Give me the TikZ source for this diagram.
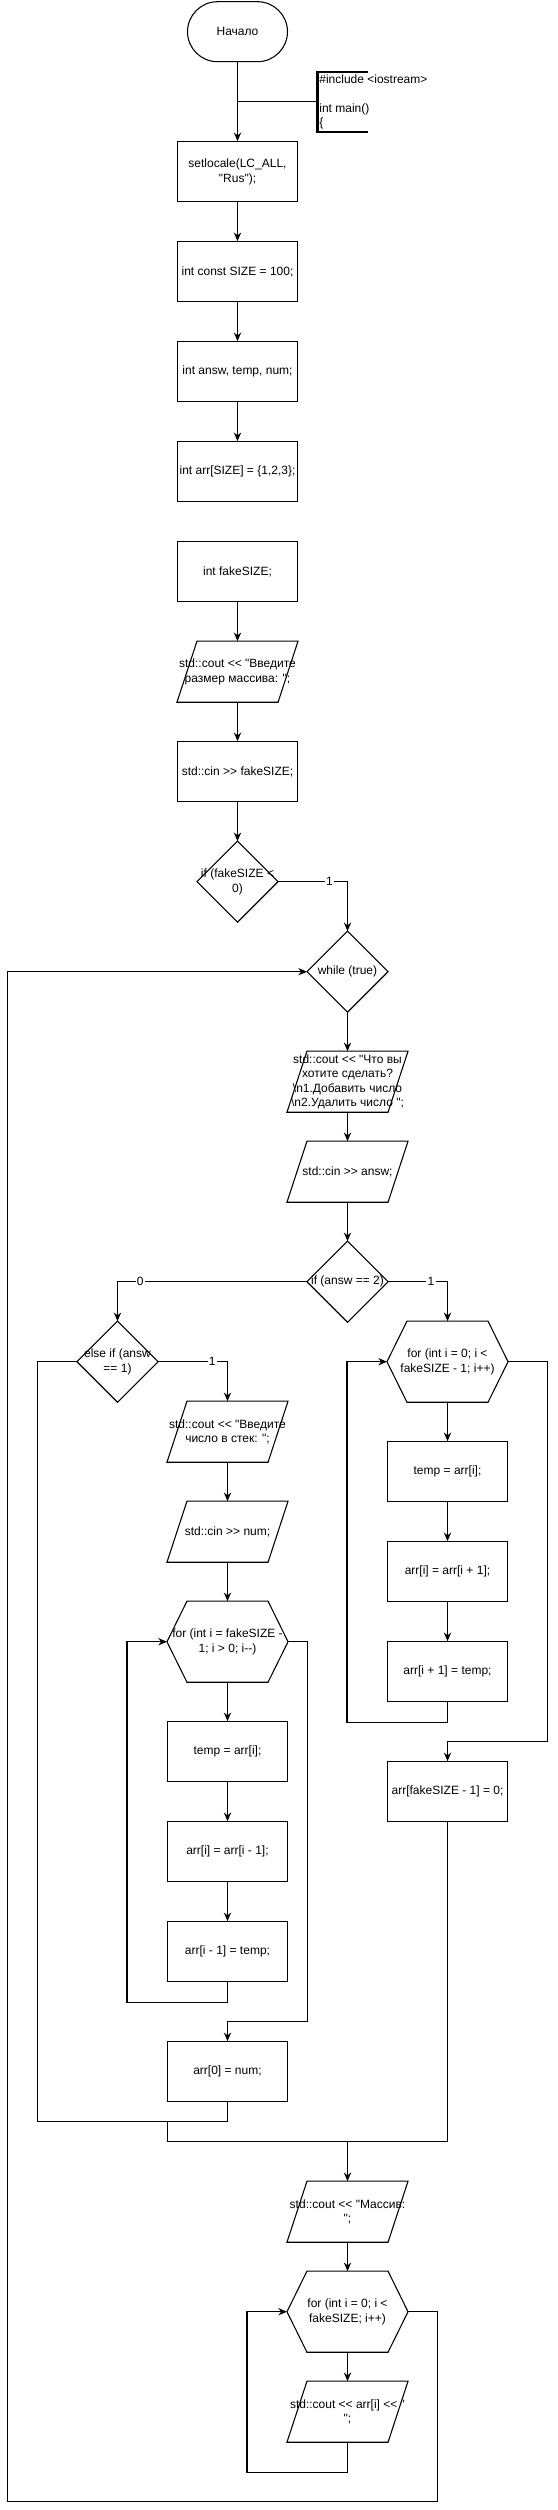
\documentclass[tikz,border=0pt]{standalone}
\usepackage{fontspec}
\setmainfont{Liberation Sans}[Ligatures=TeXOff]
\usetikzlibrary{
  arrows.meta,
  positioning,
  calc
}

\begin{document}
\begin{tikzpicture}[
  x=0.75pt, y=-0.75pt,
  line width=0.8pt,
  every node/.style={font=\fontsize{9pt}{10.9pt}\selectfont},
  block/.style={draw, minimum width=90pt, minimum height=45pt,
                inner sep=0pt, align=center},
  term/.style={block, minimum width=75pt, rounded corners=22.5pt},
  io/.style={block, draw=none},
  decision/.style={block, draw=none, minimum width=60pt, minimum height=60pt},
  loopbox/.style={block, draw=none, minimum height=60pt},
  lbl/.style={fill=white, inner sep=1pt},
  >={Stealth[length=6.5pt, width=5.5pt]}
]
\useasboundingbox (0,0) rectangle (557,2510);

% main column
\node[term] (start) at (237.5, 31.7) {Начало};
\node[anchor=west, inner sep=1pt, align=left] (note) at (317.5, 101.7)
  {\#include <iostream>\\ \\int main()\\\{};
\node[block] (setloc) at (237.5, 171.7) {setlocale(LC\_ALL,\\"Rus");};
\node[block] (sizec) at (237.5, 271.7) {int const SIZE = 100;};
\node[block] (vars) at (237.5, 371.7) {int answ, temp, num;};
\node[block] (arrinit) at (237.5, 471.7) {int arr[SIZE] = \{1,2,3\};};
\node[block] (fake) at (237.5, 571.7) {int fakeSIZE;};
\node[io] (askSize) at (237.5, 671.7) {std::cout << "Введите\\размер массива: ";};
\node[block] (readSize) at (237.5, 771.7) {std::cin >> fakeSIZE;};
\node[decision] (ifNeg) at (237.5, 881.7) {if (fakeSIZE <\\0)};

% while loop
\node[decision] (loopWhile) at (347.5, 971.7) {while (true)};
\node[io] (menu) at (347.5, 1081.7)
  {std::cout << "Что вы\\хотите сделать?\\\textbackslash n1.Добавить число\\\textbackslash n2.Удалить число ";};
\node[io] (readAnsw) at (347.5, 1171.7) {std::cin >> answ;};
\node[decision] (ifDel) at (347.5, 1281.7) {if (answ == 2)};

% add branch
\node[decision] (ifAdd) at (117.5, 1361.7) {else if (answ\\== 1)};
\node[io] (askNum) at (227.5, 1431.7) {std::cout << "Введите\\число в стек: ";};
\node[io] (readNum) at (227.5, 1531.7) {std::cin >> num;};
\node[loopbox] (forShift) at (227.5, 1641.7) {for (int i = fakeSIZE -\\1; i > 0; i--)};
\node[block] (tmpL) at (227.5, 1751.7) {temp = arr[i];};
\node[block] (movL) at (227.5, 1851.7) {arr[i] = arr[i - 1];};
\node[block] (setL) at (227.5, 1951.7) {arr[i - 1] = temp;};
\node[block] (putNum) at (227.5, 2071.7) {arr[0] = num;};

% delete branch
\node[loopbox] (forDel) at (447.5, 1361.7) {for (int i = 0; i <\\fakeSIZE - 1; i++)};
\node[block] (tmpR) at (447.5, 1471.7) {temp = arr[i];};
\node[block] (movR) at (447.5, 1571.7) {arr[i] = arr[i + 1];};
\node[block] (setR) at (447.5, 1671.7) {arr[i + 1] = temp;};
\node[block] (zeroLast) at (447.5, 1791.7) {arr[fakeSIZE - 1] = 0;};

% output
\node[io] (showHead) at (347.5, 2211.7) {std::cout << "Массив:\\";};
\node[loopbox] (forShow) at (347.5, 2311.7) {for (int i = 0; i <\\fakeSIZE; i++)};
\node[io] (showItem) at (347.5, 2411.7) {std::cout << arr[i] << "\\";};

% outlines
\foreach \n in {ifNeg, loopWhile, ifDel, ifAdd}
  \draw (\n.north) -- (\n.east) -- (\n.south) -- (\n.west) -- cycle;
\foreach \n in {askSize, menu, readAnsw, askNum, readNum, showHead, showItem}
  \draw ([xshift=15pt]\n.north west) -- (\n.north east)
    -- ([xshift=-15pt]\n.south east) -- (\n.south west) -- cycle;
\foreach \n in {forShift, forDel, forShow}
  \draw (\n.west) -- ([xshift=15pt]\n.north west) -- ([xshift=-15pt]\n.north east)
    -- (\n.east) -- ([xshift=-15pt]\n.south east) -- ([xshift=15pt]\n.south west) -- cycle;
\draw[line width=1.6pt] (367.5, 71.7) -- (317.5, 71.7) -- (317.5, 131.7) -- (367.5, 131.7);

% Arrows
\draw[->] (start.south) -- (setloc.north);
\draw (start.south |- note.west) -- (note.west);
\draw[->] (setloc.south) -- (sizec.north);
\draw[->] (sizec.south) -- (vars.north);
\draw[->] (vars.south) -- (arrinit.north);
\draw[->] (fake.south) -- (askSize.north);
\draw[->] (askSize.south) -- (readSize.north);
\draw[->] (readSize.south) -- (ifNeg.north);
\draw[->] (ifNeg.east) -| node[lbl, pos=0.37] {1} (loopWhile.north);
\draw[->] (loopWhile.south) -- (menu.north);
\draw[->] (menu.south) -- (readAnsw.north);
\draw[->] (readAnsw.south) -- (ifDel.north);
\draw[->] (ifDel.west) -| node[lbl, pos=0.44] {0} (ifAdd.north);
\draw[->] (ifDel.east) -| node[lbl, pos=0.36] {1} (forDel.north);
\draw[->] (ifAdd.east) -| node[lbl, pos=0.39] {1} (askNum.north);

\draw[->] (askNum.south) -- (readNum.north);
\draw[->] (readNum.south) -- (forShift.north);
\draw[->] (forShift.south) -- (tmpL.north);
\draw[->] (tmpL.south) -- (movL.north);
\draw[->] (movL.south) -- (setL.north);
\draw[->] (setL.south) -- ++(0,20) -| ([xshift=-30pt]forShift.west) -- (forShift.west);
\draw[->] (forShift.east) -| (307.5, 2021.7) -| (putNum.north);

\draw[->] (forDel.south) -- (tmpR.north);
\draw[->] (tmpR.south) -- (movR.north);
\draw[->] (movR.south) -- (setR.north);
\draw[->] (setR.south) -- ++(0,20) -| ([xshift=-30pt]forDel.west) -- (forDel.west);
\draw[->] (forDel.east) -| (547.5, 1741.7) -| (zeroLast.north);

% merge
\coordinate (join1) at (167.5, 2121.7);
\coordinate (join2) at (347.5, 2141.7);
\draw (ifAdd.west) -| (37.5, 2121.7) -- (putNum.south |- join1);
\draw (putNum.south) -- (putNum.south |- join1);
\draw (zeroLast.south) |- (join2);
\draw[->] (join1) |- (join2) -- (showHead.north);

\draw[->] (showHead.south) -- (forShow.north);
\draw[->] (forShow.south) -- (showItem.north);
\draw[->] (showItem.south) -- ++(0,30) -| ([xshift=-30pt]forShow.west) -- (forShow.west);
\draw[->] (forShow.east) -| (437.5, 2501.7) -| (7.5, 971.7) -- (loopWhile.west);

\end{tikzpicture}
\end{document}
